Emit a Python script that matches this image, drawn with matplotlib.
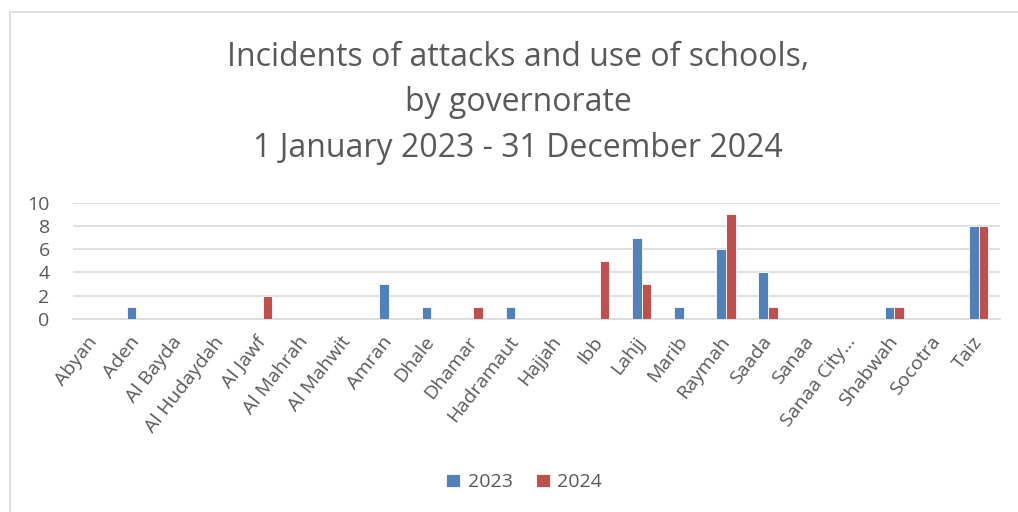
import numpy as np
import matplotlib.pyplot as plt
from matplotlib.patches import Rectangle

governorates = ["Abyan", "Aden", "Al Bayda", "Al Hudaydah", "Al Jawf", "Al Mahrah",
                "Al Mahwit", "Amran", "Dhale", "Dhamar", "Hadramaut", "Hajjah", "Ibb",
                "Lahjj", "Marib", "Raymah", "Saada", "Sanaa", "Sanaa City...",
                "Shabwah", "Socotra", "Taiz"]
y2023 = [0, 1, 0, 0, 0, 0, 0, 3, 1, 0, 1, 0, 0, 7, 1, 6, 4, 0, 0, 1, 0, 8]
y2024 = [0, 0, 0, 0, 2, 0, 0, 0, 0, 1, 0, 0, 5, 3, 0, 9, 1, 0, 0, 1, 0, 8]
yticks = [0, 2, 4, 6, 8, 10]

blue = "#4F81BD"
red = "#C0504D"
grey_txt = "#595959"

plt.rcParams["font.family"] = ["Open Sans", "DejaVu Sans"]

fig = plt.figure(figsize=(10.18, 5.12), dpi=100)
ax = fig.add_axes([0.072, 0.377, 0.91, 0.227])

x = np.arange(len(governorates))
w = 0.23
ax.bar(x - w / 2, y2023, w, color=blue, edgecolor="white", linewidth=0.6, label="2023", zorder=3)
ax.bar(x + w / 2, y2024, w, color=red, edgecolor="white", linewidth=0.6, label="2024", zorder=3)

ax.set_xlim(-0.5, len(governorates) - 0.5)
ax.set_ylim(0, 10)
ax.set_yticks(yticks)
ax.yaxis.grid(True, color="#D9D9D9", linewidth=1.2, zorder=0)
for s in ["top", "right", "left"]:
    ax.spines[s].set_visible(False)
ax.spines["bottom"].set_color("#D9D9D9")
ax.spines["bottom"].set_linewidth(1.2)
ax.tick_params(axis="both", length=0, colors=grey_txt)
ax.tick_params(axis="y", pad=17, labelsize=14)
ax.tick_params(axis="x", pad=14, labelsize=14)
ax.set_xticks(x)
ax.set_xticklabels(governorates, rotation=52, ha="right", va="center", rotation_mode="anchor")

fig.text(0.509, 0.799, "Incidents of attacks and use of schools,\nby governorate\n1 January 2023 - 31 December 2024",
         ha="center", va="center", fontsize=23, color=grey_txt, linespacing=1.5)

fig.legend(loc="center", bbox_to_anchor=(0.515, 0.058), ncol=2, frameon=False,
           fontsize=14, handlelength=0.7, handleheight=0.7, columnspacing=1.2,
           handletextpad=0.4, labelcolor=grey_txt)

fig.patches.append(Rectangle((0.01, -0.1), 1.2, 1.077, transform=fig.transFigure,
                             fill=False, edgecolor="#D9D9D9", linewidth=1.2))

fig.savefig("out.png", dpi=100)
